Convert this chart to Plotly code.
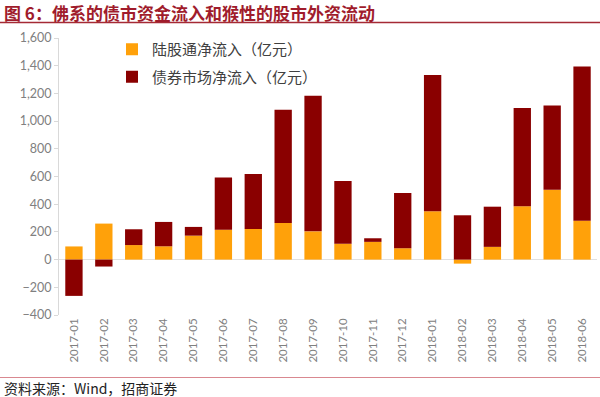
import plotly.graph_objects as go

months = ["2017-01","2017-02","2017-03","2017-04","2017-05","2017-06","2017-07","2017-08","2017-09",
          "2017-10","2017-11","2017-12","2018-01","2018-02","2018-03","2018-04","2018-05","2018-06"]
stock_connect = [95, 260, 105, 96, 173, 216, 221, 265, 204, 115, 128, 82, 349, -29, 92, 385, 505, 281]
bond_market = [-262, -50, 114, 176, 63, 376, 397, 817, 979, 453, 26, 399, 984, 320, 290, 709, 608, 1113]
y_ticks = [-400, -200, 0, 200, 400, 600, 800, 1000, 1200, 1400, 1600]

ORANGE = "#FFA10A"
DARK = "#8A0000"

fig = go.Figure()
fig.add_trace(go.Bar(x=months, y=stock_connect, name="陆股通净流入（亿元）",
                     marker=dict(color=ORANGE, line=dict(width=0)), legendgroup="a"))
fig.add_trace(go.Bar(x=months, y=bond_market, name="债券市场净流入（亿元）",
                     marker=dict(color=DARK, line=dict(width=0)), legendgroup="b"))

L, R, T, B = 59, 3, 38, 82
W, H = 600, 397
pw, ph = W - L - R, H - T - B

def px(x):
    return (x - L) / pw

def py(y):
    return (H - B - y) / ph

fig.update_layout(
    template="none",
    width=W, height=H,
    margin=dict(l=L, r=R, t=T, b=B, autoexpand=False),
    barmode="relative",
    bargap=0.42,
    plot_bgcolor="white", paper_bgcolor="white",
    font=dict(family="Lato, 'Noto Sans CJK SC', sans-serif", color="#595959"),
    showlegend=True,
    legend=dict(x=px(112), y=py(33), xanchor="left", yanchor="top",
                traceorder="grouped", tracegroupgap=5,
                font=dict(size=15, color="#404040", family="'Noto Sans CJK SC', sans-serif"),
                bgcolor="rgba(0,0,0,0)", itemwidth=30),
    xaxis=dict(type="category", tickangle=-90, tickfont=dict(size=11.5, color="#808080"),
               showline=False, showgrid=False, ticks="", automargin=False),
    yaxis=dict(range=[-400, 1600], tickvals=y_ticks, tickformat=",",
               tickfont=dict(size=12.5, color="#808080"), automargin=False,
               showgrid=False, zeroline=True, zerolinecolor="#E0E0E0", zerolinewidth=1,
               showline=True, linecolor="#D9D9D9", linewidth=1,
               ticks="outside", ticklen=4, tickcolor="#D9D9D9"),
)

fig.add_shape(type="line", xref="paper", yref="paper", x0=px(0), x1=px(600), y0=py(22.5), y1=py(22.5),
              line=dict(color="#A52A35", width=1.5))
fig.add_shape(type="line", xref="paper", yref="paper", x0=px(0), x1=px(600), y0=py(377.5), y1=py(377.5),
              line=dict(color="#D98890", width=1.2))

fig.add_annotation(text="<b>图 6：佛系的债市资金流入和猴性的股市外资流动</b>",
                   xref="paper", yref="paper", x=px(2), y=py(12), xanchor="left", yanchor="middle",
                   showarrow=False, font=dict(size=17, color="#A01C2C", family="'Noto Sans CJK SC', serif"))
fig.add_annotation(text="资料来源：Wind，招商证券",
                   xref="paper", yref="paper", x=px(2), y=py(388), xanchor="left", yanchor="middle",
                   showarrow=False, font=dict(size=14, color="#222222", family="'Noto Sans CJK SC', sans-serif"))

fig.write_html("out.html", config={"displayModeBar": False},
               post_script="document.body.style.margin='0';document.body.style.overflow='hidden';")
